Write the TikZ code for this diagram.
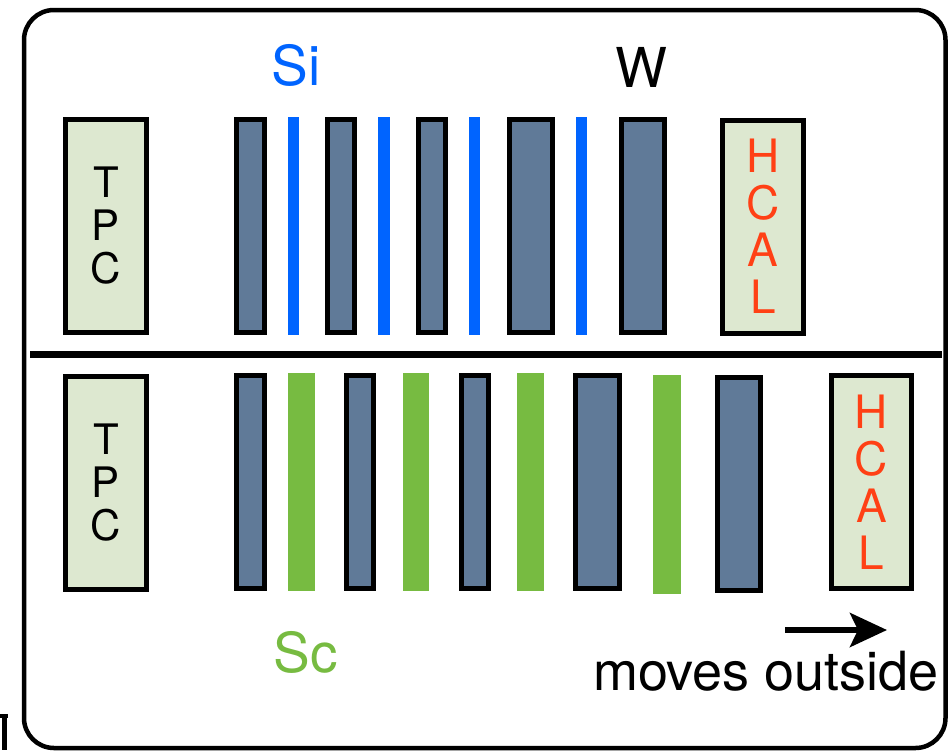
\documentclass[tikz,border=0pt]{standalone}
\usepackage{fontspec}
\setmainfont{TeX Gyre Heros}
\usetikzlibrary{arrows.meta}
\definecolor{wfill}{RGB}{96,122,152}
\definecolor{siblue}{RGB}{0,100,255}
\definecolor{scgreen}{RGB}{119,187,65}
\definecolor{boxfill}{RGB}{221,232,208}
\definecolor{hcalred}{RGB}{255,64,21}
\begin{document}
\begin{tikzpicture}[x=1pt,y=-1pt,
  wplate/.style={draw=black, line width=5pt, fill=wfill, minimum height=213pt, inner sep=0pt, outer sep=0pt},
  sistrip/.style={fill=siblue, minimum height=218pt, inner sep=0pt, outer sep=0pt},
  scstrip/.style={fill=scgreen, minimum height=218pt, inner sep=0pt, outer sep=0pt},
  detbox/.style={draw=black, line width=5pt, fill=boxfill, minimum width=81pt, minimum height=213pt, inner sep=0pt, outer sep=0pt},
  tpctext/.style={font=\fontsize{42}{43}\selectfont, align=center},
  hcaltext/.style={text=hcalred, font=\fontsize{46}{47}\selectfont, align=center},
  lbl/.style={font=\fontsize{55}{60}\selectfont, anchor=base, inner sep=0pt}
]
\useasboundingbox (0,0) rectangle (950,750);
% outer frame
\draw[line width=4.5pt, rounded corners=30pt] (24,10) rectangle (945.5,748);
% fragment at bottom left
\fill (0,713.5) rectangle (7.5,717.5);
\fill (2,717.5) rectangle (7,750);
% divider
\draw[line width=7pt] (30,354) -- (942,354);

% ---------- top row ----------
\node[detbox, tpctext] (tpcA) at (106,226) {T\\P\\C};
\node[wplate, minimum width=28pt] (wA1) at (250.5,226) {};
\node[sistrip, minimum width=11pt] (sA1) at (293.5,226) {};
\node[wplate, minimum width=27pt] (wA2) at (341,226) {};
\node[sistrip, minimum width=12pt] (sA2) at (384,226) {};
\node[wplate, minimum width=27pt] (wA3) at (432,226) {};
\node[sistrip, minimum width=11pt] (sA3) at (474.5,226) {};
\node[wplate, minimum width=43pt] (wA4) at (531,226) {};
\node[sistrip, minimum width=11pt] (sA4) at (581.5,226) {};
\node[wplate, minimum width=43pt] (wA5) at (643,226) {};
\node[detbox, hcaltext] (hcalA) at (763,226.5) {H\\C\\A\\L};

% ---------- bottom row ----------
\node[detbox, tpctext] (tpcB) at (106,483) {T\\P\\C};
\node[wplate, minimum width=28pt] (wB1) at (250.5,482) {};
\node[scstrip, minimum width=27pt] (sB1) at (301.5,482) {};
\node[wplate, minimum width=27pt] (wB2) at (360,482) {};
\node[scstrip, minimum width=26pt] (sB2) at (416,482) {};
\node[wplate, minimum width=27pt] (wB3) at (475,482) {};
\node[scstrip, minimum width=27pt] (sB3) at (530.5,482) {};
\node[wplate, minimum width=44pt] (wB4) at (597.5,482) {};
\node[scstrip, minimum width=28pt, minimum height=219pt] (sB4) at (667,484.5) {};
\node[wplate, minimum width=43pt] (wB5) at (739,484) {};
\node[detbox, hcaltext, minimum width=80pt] (hcalB) at (871.5,482) {H\\C\\A\\L};

% ---------- labels ----------
\node[lbl, text=siblue] (siLbl) at (296,85) {Si};
\node[lbl] (wLbl) at (641,87) {W};
\node[lbl, text=scgreen] (scLbl) at (306,672) {Sc};
\node[lbl, font=\fontsize{54}{60}\selectfont] (movesLbl) at (766,690) {moves outside};

% arrow
\coordinate (arrS) at (785,630);
\coordinate (arrE) at (887,630);
\draw[line width=6pt, -{Stealth[length=37pt, width=34pt, inset=8pt]}] (arrS) -- (arrE);
\end{tikzpicture}
\end{document}
